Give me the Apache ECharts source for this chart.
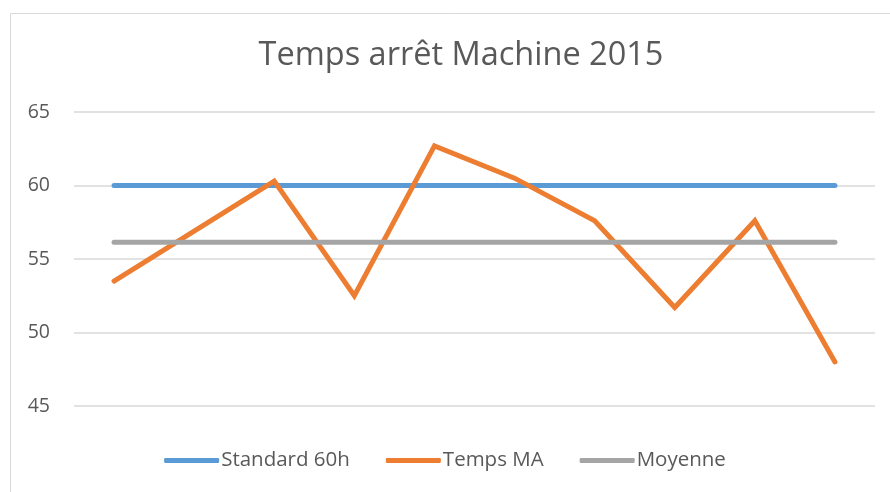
<!DOCTYPE html>
<html><head><meta charset="utf-8">
<script src="https://cdn.jsdelivr.net/npm/echarts@6/dist/echarts.min.js"></script>
<style>html,body{margin:0;padding:0;background:#fff}#c{width:890px;height:492px}</style>
</head><body><div id="c"></div>
<script>
const categories = ['1','2','3','4','5','6','7','8','9','10'];
const standard60h = [60,60,60,60,60,60,60,60,60,60];
const tempsMA = [53.5,56.9,60.3,52.5,62.7,60.5,57.6,51.7,57.6,48.0];
const moyenne = [56.14,56.14,56.14,56.14,56.14,56.14,56.14,56.14,56.14,56.14];
const yTicks = {min:45, max:65, interval:5};
const seriesNames = ['Standard 60h','Temps MA','Moyenne'];
const colors = ['#5B9BD5','#ED7D31','#A5A5A5'];

const chart = echarts.init(document.getElementById('c'), null, {renderer:'canvas'});
const font = '"Open Sans", "Noto Sans", sans-serif';
const mk = (name, data, color) => ({
  name, type:'line', data, symbol:'none', smooth:false, color,
  lineStyle:{width:5, color, cap:'round', join:'miter'}, emphasis:{disabled:true}
});
chart.setOption({
  animation:false,
  graphic:[{type:'rect', shape:{x:10.5,y:13.5,width:900,height:500}, style:{fill:'none', stroke:'#D9D9D9', lineWidth:1}, silent:true}],
  title:{text:'Temps arrêt Machine 2015', left:456, top:34, textAlign:'center',
    textStyle:{fontFamily:font, fontWeight:'normal', fontSize:32.5, color:'#595959'}},
  grid:{left:74, right:15, top:112, bottom:86},
  xAxis:{type:'category', data:categories, boundaryGap:true, axisLine:{show:false}, axisTick:{show:false}, axisLabel:{show:false}},
  yAxis:{type:'value', min:yTicks.min, max:yTicks.max, interval:yTicks.interval,
    axisLine:{show:false}, axisTick:{show:false},
    axisLabel:{fontFamily:font, fontSize:19.5, color:'#595959', margin:24},
    splitLine:{lineStyle:{color:'#D9D9D9', width:1.5}}},
  legend:{bottom:16, left:'center', itemWidth:55, itemHeight:5, itemGap:36, icon:'roundRect',
    data:seriesNames,
    textStyle:{fontFamily:font, fontSize:20.5, color:'#595959', padding:[0,0,0,-3]}},
  series:[mk(seriesNames[0], standard60h, colors[0]), mk(seriesNames[1], tempsMA, colors[1]), mk(seriesNames[2], moyenne, colors[2])]
});
</script></body></html>
